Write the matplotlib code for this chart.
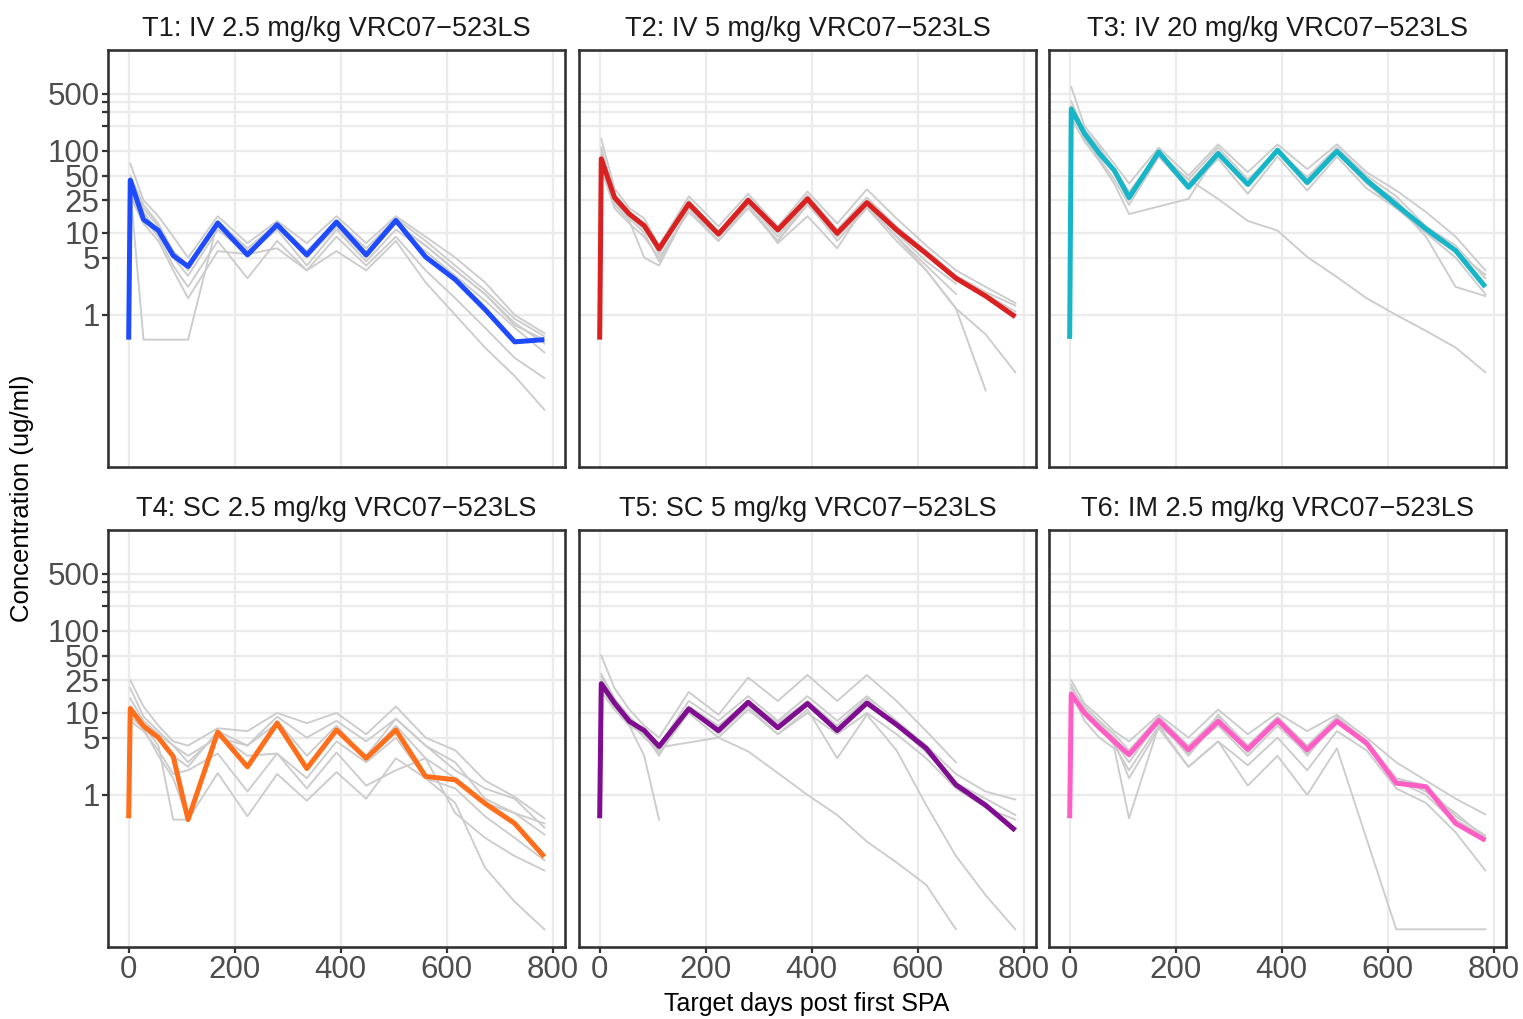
import matplotlib.pyplot as plt
from matplotlib.ticker import FixedLocator, NullLocator

plt.rcParams['font.family'] = ['Liberation Sans', 'DejaVu Sans']

# sampling days for individual animals (day 0 only exists for the group mean)
days = [3, 28, 56, 84, 112, 168, 224, 280, 336, 392, 448, 504, 560, 616, 672, 728, 784]
mean_days = [0] + days

titles = ["T1: IV 2.5 mg/kg VRC07\u2212523LS", "T2: IV 5 mg/kg VRC07\u2212523LS",
          "T3: IV 20 mg/kg VRC07\u2212523LS", "T4: SC 2.5 mg/kg VRC07\u2212523LS",
          "T5: SC 5 mg/kg VRC07\u2212523LS", "T6: IM 2.5 mg/kg VRC07\u2212523LS"]
colors = ["#1F4BFF", "#D92121", "#17B5C8", "#FF6E1A", "#7E0D8F", "#FF5EC4"]

y_ticks = [1, 5, 10, 25, 50, 100, 200, 300, 400, 500]
y_labels = ["1", "5", "10", "25", "50", "100", "", "", "", "500"]
x_ticks = [0, 200, 400, 600, 800]

# group means
mean_t1 = [0.5, 44, 14.6, 10.7, 5.3, 3.9, 13.2, 5.4, 12.6, 5.4, 13.6, 5.4, 14.2, 5.1, 2.7, 1.17, 0.47, 0.5]
mean_t2 = [0.5, 80, 27, 17, 12.3, 6.4, 22.7, 9.7, 25, 10.9, 26, 9.9, 23.4, 10.9, 5.6, 2.8, 1.7, 0.95]
mean_t3 = [0.51, 324, 163, 93, 58, 27, 97, 36, 93, 39, 102, 41, 99, 44, 22, 11.2, 6.1, 2.2]
mean_t4 = [0.52, 11.3, 6.9, 5.0, 2.95, 0.5, 5.85, 2.2, 7.5, 2.1, 6.2, 2.8, 6.2, 1.68, 1.53, 0.79, 0.45, 0.176]
mean_t5 = [0.52, 22.7, 13.2, 7.9, 6.1, 3.9, 11.2, 6.1, 13.5, 6.6, 13.0, 6.1, 13.2, 7.2, 3.7, 1.33, 0.75, 0.37]
mean_t6 = [0.52, 17, 10, 6.6, 4.5, 3.1, 8.1, 3.55, 7.9, 3.6, 8.1, 3.55, 7.9, 4.3, 1.39, 1.26, 0.45, 0.28]

# individual animals (None = no sample)
gray_t1 = [
    [70, 25, 16, 9, 5, 16, 7.5, 14, 7.5, 16, 7.5, 16, 9, 5, 2.5, 1.0, 0.6],
    [40, 20, 12, 6, 3.5, 14, 6.5, 13, 6, 14, 6.5, 15, 8, 4, 2, 0.9, 0.55],
    [35, 0.5, 0.5, 0.5, 0.5, 14, 6, 12, 5, 12, 5.5, 13, 7, 3.5, 1.8, 0.8, 0.45],
    [30, 15, 9, 4, 2.2, 8, 2.8, 8, 3.5, 9, 4, 9, 3.5, 1.6, 0.7, 0.3, 0.17],
    [28, 13, 8, 3.5, 1.6, 6, 5.5, 6.5, 3.5, 6, 3.5, 8, 2.5, 1.0, 0.4, 0.18, 0.07],
    [45, 18, 10, 5, 3, 11, 5.5, 11, 4, 11, 4.5, 11, 6, 3, 1.5, 0.7, 0.35],
    [50, 22, 13, 6, 4, 12, 6, 12, 5, 12, 5, 13, 7, 3.5, 1.8, 0.75, 0.5],
]
gray_t2 = [
    [140, 35, 20, 15, 7, 28, 12, 30, 12, 32, 13, 34, 15, 7, 3.5, 2.2, 1.4],
    [100, 30, 18, 12, 5.5, 25, 10, 27, 11, 29, 11, 27, 12, 6, 3, 1.8, 1.1],
    [70, 22, 14, 5, 4, 20, 9, 22, 7.5, 16, 6.5, 23, 10, 4.5, 2.4, None, None],
    [60, 20, 13, 9, 5, 18, 8, 20, 8, 22, 9, 21, 9, 4, 1.8, None, None],
    [90, 26, 16, 11, 6, 22, 9, 24, 9, 25, 9, 22, 9, 3.5, 1.2, 0.12, None],
    [80, 24, 15, 10, 4.5, 20, 8, 22, 8, 24, 8, 20, 8, 3.5, 1.2, 0.58, 0.2],
    [110, 28, 17, 12, 6, 24, 10, 26, 10, 27, 10, 25, 11, 5.5, 3, 1.9, 1.3],
]
gray_t3 = [
    [600, 200, 120, 70, 40, 110, 50, 120, 55, 120, 60, 120, 55, 33, 18, 9, 3.5],
    [400, 170, 100, 60, 30, 100, 40, 100, 40, 105, 45, 105, 45, 25, 10, 5, 1.8],
    [350, 140, 80, 45, 22, 85, 35, 80, 30, 85, 33, 85, 35, 20, 11.7, None, None],
    [280, 150, 90, 55, 25, 95, 45, 26, 14, 10.7, 5.1, 2.9, 1.6, 1.0, 0.64, 0.4, 0.2],
    [250, 130, 75, 40, 17, None, 26, 95, 40, 100, 40, 100, 42, 22, 9, 2.2, 1.7],
    [300, 160, 95, 55, 25, 100, 38, 95, 40, 100, 42, 95, 40, 20, 10, 6, 3.1],
    [320, 180, 110, 60, 32, 90, 45, 110, 45, 100, 48, 110, 50, 28, 12, 7, 2.8],
]
gray_t4 = [
    [25, 12, 7, 4.5, 4, 6.5, 6, 10, 7.5, 10, 5.5, 12, 5, 3.5, 1.5, 0.95, 0.52],
    [15, 8, 5.5, 4, 3, 5, 4, 9, 5, 8, 4.5, 8.5, 4, 2, 1.2, 0.9, 0.4],
    [10, 7, 4, 0.5, 0.5, 6, 2.2, 8, 3, 7, 2.8, 7, 2.8, 1.6, 0.8, 0.6, 0.33],
    [8, 6, 3.5, 1.8, 2, 3.2, 1.1, 3.2, 1.6, 4.5, 2.5, 5, 1.6, 1.2, 0.55, 0.3, 0.16],
    [9, 6.5, 3, 1.6, 0.5, 1.85, 0.55, 1.8, 0.85, 1.9, 0.9, 2.8, 1.6, 0.8, 0.13, 0.05, 0.023],
    [20, 9, 6, 4, 2.5, 5.5, 3, 3.2, 1.2, 3.3, 1.3, 2.0, 2.8, 0.6, 0.3, 0.18, 0.12],
    [12, 7.5, 5, 3, 2.2, 6, 4, 7.5, 2.2, 6, 3, 8.5, 4, 2.5, 0.9, 0.6, 0.45],
]
gray_t5 = [
    [50, 20, 11, 7, 5, 18, 9.5, 27, 14, 29, 14, 29, 14, 6, 2.5, None, None],
    [30, 15, 9, 6, 4, 14, 8, 16, 8, 16, 8, 16, 8, 4, 1.8, 1.1, 0.88],
    [25, 14, 8, 6.5, 3.8, None, 5, 3.4, 1.85, 1.0, 0.57, 0.27, 0.15, 0.08, 0.023, None, None],
    [20, 12, 7, 3, 0.5, None, None, None, None, None, None, None, None, None, None, None, None],
    [18, 11, 7, 5.5, 3, 12, 5.5, 12, 5.5, 11, 2.8, 9.5, 3.5, 0.75, 0.18, 0.06, 0.023],
    [28, 14, 8.5, 6, 3.2, 10, 5, 11, 5.5, 10, 5.5, 10, 5.5, 2.8, 1.2, 0.7, 0.5],
    [22, 13, 8, 5, 3.5, 12, 7, 14, 7.5, 14, 7, 15, 7, 3.3, 1.4, 0.9, 0.57],
]
gray_t6 = [
    [25, 13, 9, 6, 4.5, 9.5, 5, 11, 5.5, 10, 6, 9.5, 5, 2.5, 1.5, 0.9, 0.58],
    [20, 12, 8, 5.5, 3.5, 9, 4, 9, 4, 9, 4, 9, 4.5, 1.6, 1.1, 0.6, 0.3],
    [18, 8, 5, 3.7, 0.52, 7, 3.5, 7, 3, 7, 3.2, 8, 4, 1.5, 1.0, 0.45, 0.28],
    [15, 11, 7, 4, 2, 7, 2.2, 4.5, 1.3, 3, 1.0, 3.7, None, 0.023, 0.023, 0.023, 0.023],
    [17, 10, 7, 4.5, 1.6, 6.5, 2.2, 4.5, 2.3, 5, 2, 6, 3.5, 1.2, 0.8, 0.35, 0.12],
    [22, 11, 7.5, 5, 3, 8.5, 3.2, 9.5, 4, 8.5, 3.5, 8, 4, 1.4, 1.2, 0.5, 0.3],
    [16, 10, 6.5, 4.5, 2.5, 8, 3, 8, 3.3, 8.5, 3, 8.5, 4.5, 1.6, 1.3, 0.55, 0.32],
]

means = [mean_t1, mean_t2, mean_t3, mean_t4, mean_t5, mean_t6]
grays = [gray_t1, gray_t2, gray_t3, gray_t4, gray_t5, gray_t6]

W, H = 1523, 1019
fig = plt.figure(figsize=(W / 100, H / 100), dpi=100)

col_x = [108, 579, 1049]
row_y = [50, 530]
pw, ph = 457, 417

for i in range(6):
    r, c = divmod(i, 3)
    ax = fig.add_axes([col_x[c] / W, 1 - (row_y[r] + ph) / H, pw / W, ph / H])
    for line in grays[i]:
        xs = [d for d, v in zip(days, line) if v is not None]
        ys = [v for v in line if v is not None]
        ax.plot(xs, ys, color="#CCCCCC", lw=1.35)
    ax.plot(mean_days, means[i], color=colors[i], lw=3.6, solid_capstyle="butt")

    ax.set_yscale("log")
    ax.set_ylim(0.014, 1700)
    ax.set_xlim(-39, 823)
    ax.yaxis.set_major_locator(FixedLocator(y_ticks))
    ax.yaxis.set_minor_locator(NullLocator())
    ax.xaxis.set_major_locator(FixedLocator(x_ticks))
    ax.grid(True, color="#EBEBEB", lw=1.6)
    ax.set_axisbelow(True)
    for s in ax.spines.values():
        s.set_color("#333333")
        s.set_linewidth(1.9)
    ax.tick_params(length=4, width=1.6, color="#333333", labelsize=22.5,
                   labelcolor="#4D4D4D", pad=2)
    if c == 0:
        ax.set_yticklabels(y_labels)
    else:
        ax.tick_params(axis="y", left=False, labelleft=False)
    if r == 0:
        ax.tick_params(axis="x", bottom=False, labelbottom=False)
    ax.set_title(titles[i], fontsize=19.5, color="#1A1A1A", pad=10)

fig.text(22 / W, 1 - 498 / H, "Concentration (ug/ml)", rotation=90,
         ha="center", va="center", fontsize=18.5)
fig.text(807 / W, 1 - 1004 / H, "Target days post first SPA",
         ha="center", va="center", fontsize=18)

fig.savefig("out.png", dpi=100)
